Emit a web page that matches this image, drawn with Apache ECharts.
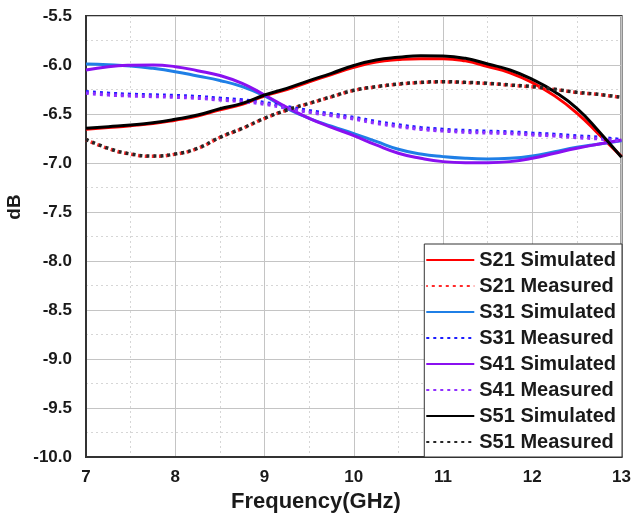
<!DOCTYPE html>
<html>
<head>
<meta charset="utf-8">
<script src="https://cdn.jsdelivr.net/npm/echarts@6/dist/echarts.min.js"></script>
<style>
html,body{margin:0;padding:0;background:#fff;}
#c{width:634px;height:519px;}
</style>
</head>
<body>
<div id="c"></div>
<script>
var freq = [7, 7.25, 7.5, 7.75, 8, 8.25, 8.5, 8.75, 9, 9.25, 9.5, 9.75, 10, 10.25, 10.5, 10.75, 11, 11.25, 11.5, 11.75, 12, 12.25, 12.5, 12.75, 13];
var s21Sim  = [-6.655, -6.638, -6.62, -6.598, -6.563, -6.52, -6.458, -6.40, -6.316, -6.25, -6.172, -6.097, -6.024, -5.97, -5.945, -5.935, -5.935, -5.958, -6.015, -6.08, -6.18, -6.315, -6.49, -6.71, -6.935];
var s21Meas = [-6.762, -6.853, -6.91, -6.931, -6.91, -6.852, -6.74, -6.648, -6.546, -6.461, -6.393, -6.325, -6.26, -6.223, -6.196, -6.179, -6.172, -6.179, -6.189, -6.206, -6.223, -6.25, -6.281, -6.302, -6.332];
var s31Sim  = [-5.99, -5.997, -6.01, -6.034, -6.068, -6.112, -6.158, -6.221, -6.316, -6.442, -6.544, -6.625, -6.70, -6.78, -6.86, -6.908, -6.935, -6.952, -6.958, -6.952, -6.929, -6.884, -6.84, -6.806, -6.772];
var s31Meas = [-6.272, -6.289, -6.30, -6.306, -6.313, -6.323, -6.34, -6.357, -6.384, -6.425, -6.466, -6.50, -6.535, -6.578, -6.612, -6.64, -6.657, -6.67, -6.677, -6.684, -6.697, -6.708, -6.725, -6.738, -6.765];
var s41Sim  = [-6.051, -6.017, -6.003, -6.0, -6.017, -6.058, -6.107, -6.187, -6.306, -6.432, -6.544, -6.636, -6.72, -6.816, -6.90, -6.952, -6.986, -6.997, -6.997, -6.986, -6.952, -6.90, -6.85, -6.806, -6.765];
var s41Meas = [-6.287, -6.304, -6.315, -6.321, -6.328, -6.338, -6.355, -6.372, -6.399, -6.44, -6.481, -6.515, -6.55, -6.593, -6.627, -6.655, -6.672, -6.685, -6.692, -6.699, -6.712, -6.723, -6.74, -6.753, -6.78];
var s51Sim  = [-6.646, -6.629, -6.612, -6.589, -6.554, -6.51, -6.447, -6.391, -6.306, -6.238, -6.16, -6.085, -6.005, -5.949, -5.922, -5.905, -5.908, -5.932, -5.99, -6.051, -6.146, -6.272, -6.442, -6.68, -6.942];
var s51Meas = [-6.759, -6.85, -6.908, -6.929, -6.908, -6.85, -6.738, -6.646, -6.544, -6.459, -6.391, -6.323, -6.258, -6.221, -6.194, -6.177, -6.17, -6.177, -6.187, -6.204, -6.221, -6.248, -6.279, -6.30, -6.33];

var names = ['S21 Simulated','S21 Measured','S31 Simulated','S31 Measured','S41 Simulated','S41 Measured','S51 Simulated','S51 Measured'];
var values = [s21Sim, s21Meas, s31Sim, s31Meas, s41Sim, s41Meas, s51Sim, s51Meas];
var colors = ['#ff0000','#ff2a2a','#1f7fe6','#1c1cff','#8a10f0','#9030ff','#000000','#262626'];

function pairs(arr){ return freq.map(function(f,i){ return [f, arr[i]]; }); }

var series = names.map(function(n, i){
  var measured = (i % 2 === 1);
  return {
    name: n,
    type: 'line',
    data: pairs(values[i]),
    smooth: 0.5,
    symbol: 'none',
    showSymbol: false,
    color: colors[i],
    lineStyle: { color: colors[i], width: measured ? 3.5 : 3, type: measured ? [3, 4] : 'solid', dashOffset: (i === 1 ? 1.5 : 0) }
  };
});

var chart = echarts.init(document.getElementById('c'));
var labelStyle = { fontFamily: 'Liberation Sans, Arial, sans-serif', fontWeight: 'bold', fontSize: 17, color: '#1a1a1a' };
chart.setOption({
  animation: false,
  backgroundColor: '#ffffff',
  grid: { left: 86, right: 12, top: 16, bottom: 62, show: true, borderColor: '#333', borderWidth: 2, backgroundColor: 'transparent' },
  xAxis: {
    type: 'value', min: 7, max: 13, interval: 1,
    axisLine: { show: true, lineStyle: { color: '#333', width: 2 } },
    axisTick: { show: false },
    minorTick: { show: true, splitNumber: 2, length: 0, lineStyle: { opacity: 0 } },
    splitLine: { show: true, lineStyle: { color: '#c4c4c4', width: 1 } },
    minorSplitLine: { show: true, lineStyle: { color: '#d6d6d6', width: 1, type: [2, 3] } },
    axisLabel: Object.assign({ margin: 12 }, labelStyle)
  },
  yAxis: {
    type: 'value', min: -10, max: -5.5, interval: 0.5,
    axisLine: { show: true, lineStyle: { color: '#333', width: 2 } },
    axisTick: { show: false },
    minorTick: { show: true, splitNumber: 2, length: 0, lineStyle: { opacity: 0 } },
    splitLine: { show: true, lineStyle: { color: '#c4c4c4', width: 1 } },
    minorSplitLine: { show: true, lineStyle: { color: '#d6d6d6', width: 1, type: [2, 3] } },
    axisLabel: Object.assign({ margin: 14, formatter: function(v){ return v.toFixed(1); } }, labelStyle)
  },
  legend: {
    data: names,
    orient: 'vertical',
    right: 12, bottom: 62,
    backgroundColor: '#ffffff',
    borderColor: '#333', borderWidth: 1,
    borderRadius: 0,
    padding: [6, 6, 5, 1],
    itemWidth: 48, itemHeight: 20, itemGap: 6,
    itemStyle: { opacity: 0 },
    textStyle: { fontFamily: 'Liberation Sans, Arial, sans-serif', fontWeight: 'bold', fontSize: 20, color: '#1a1a1a', lineHeight: 20 }
  },
  graphic: [
    { type: 'text', left: 231, top: 491, style: { text: 'Frequency(GHz)', font: 'bold 22px "Liberation Sans", Arial, sans-serif', fill: '#1a1a1a' } },
    { type: 'text', x: 5, y: 207, rotation: Math.PI / 2, style: { text: 'dB', font: 'bold 19px "Liberation Sans", Arial, sans-serif', fill: '#1a1a1a', align: 'center', verticalAlign: 'top' } }
  ],
  series: series
});
</script>
</body>
</html>
